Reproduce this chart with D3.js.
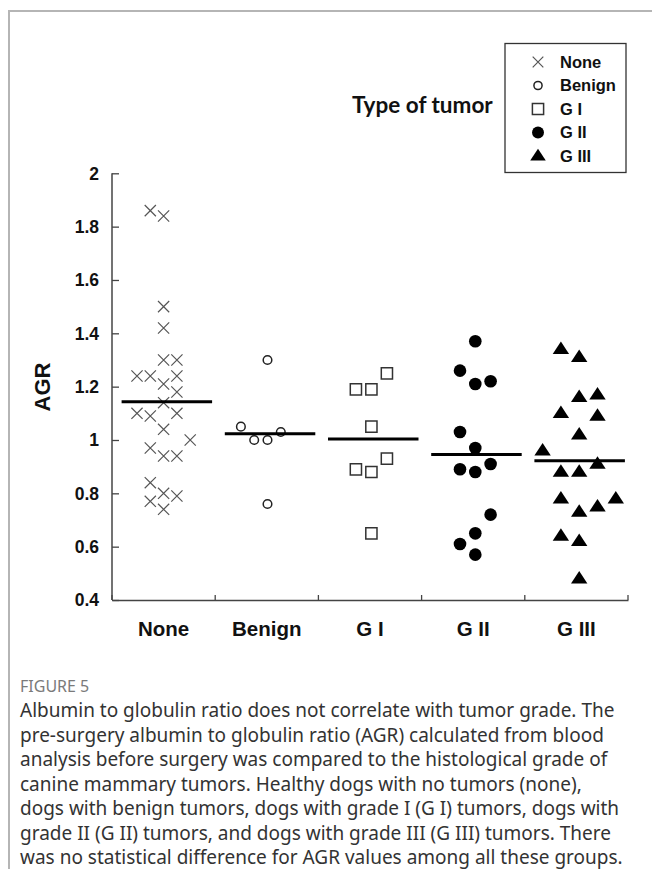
<!DOCTYPE html>
<html>
<head>
<meta charset="utf-8">
<script src="https://cdn.jsdelivr.net/npm/d3@7"></script>
<style>
  body { margin: 0; background: #fff; }
  svg { display: block; }
</style>
</head>
<body>
<svg id="viz" width="652" height="869"></svg>
<script>
// groups on the x axis, also used for the legend
const groups = ["None", "Benign", "G I", "G II", "G III"];

// AGR values per group, with the jitter column each point sits in
const noneAGR  = [1.86, 1.84, 1.50, 1.42, 1.30, 1.30, 1.24, 1.24, 1.24, 1.21, 1.18, 1.14, 1.10, 1.09, 1.10, 1.04, 1.00, 0.97, 0.94, 0.94, 0.84, 0.80, 0.79, 0.77, 0.74];
const noneCol  = [-1, 0, 0, 0, 0, 1, -2, -1, 1, 0, 1, 0, -2, -1, 1, 0, 2, -1, 0, 1, -1, 0, 1, -1, 0];
const benignAGR = [1.30, 1.05, 1.00, 1.00, 1.03, 0.76];
const benignCol = [0, -2, -1, 0, 1, 0];
const g1AGR = [1.25, 1.19, 1.19, 1.05, 0.93, 0.89, 0.88, 0.65];
const g1Col = [1, -1, 0, 0, 1, -1, 0, 0];
const g2AGR = [1.37, 1.26, 1.21, 1.22, 1.03, 0.97, 0.89, 0.88, 0.91, 0.72, 0.65, 0.61, 0.57];
const g2Col = [0, -1, 0, 1, -1, 0, -1, 0, 1, 1, 0, -1, 0];
const g3AGR = [1.34, 1.31, 1.16, 1.17, 1.10, 1.09, 1.02, 0.96, 0.91, 0.88, 0.88, 0.78, 0.78, 0.75, 0.73, 0.64, 0.62, 0.48];
const g3Col = [-1, 0, 0, 1, -1, 1, 0, -2, 1, -1, 0, -1, 2, 1, 0, -1, 0, 0];

const yTicks = [0.4, 0.6, 0.8, 1, 1.2, 1.4, 1.6, 1.8, 2];

const captionLines = [
  "Albumin to globulin ratio does not correlate with tumor grade. The",
  "pre-surgery albumin to globulin ratio (AGR) calculated from blood",
  "analysis before surgery was compared to the histological grade of",
  "canine mammary tumors. Healthy dogs with no tumors (none),",
  "dogs with benign tumors, dogs with grade I (G I) tumors, dogs with",
  "grade II (G II) tumors, and dogs with grade III (G III) tumors. There",
  "was no statistical difference for AGR values among all these groups."
];

const series = [
  { name: groups[0], agr: noneAGR, col: noneCol },
  { name: groups[1], agr: benignAGR, col: benignCol },
  { name: groups[2], agr: g1AGR, col: g1Col },
  { name: groups[3], agr: g2AGR, col: g2Col },
  { name: groups[4], agr: g3AGR, col: g3Col }
];

// marker shape per group: path generator + fill/stroke + jitter step
const MARKERS = {
  "None":   { step: 13.3, path: s => { const h = 5.6 * s; return `M${-h},${-h}L${h},${h}M${-h},${h}L${h},${-h}`; }, fill: "none", stroke: "#555", sw: 1.2 },
  "Benign": { step: 13.3, path: s => d3.arc()({ innerRadius: 0, outerRadius: 4.3 * s, startAngle: 0, endAngle: 2 * Math.PI }), fill: "#fff", stroke: "#222", sw: 1.5 },
  "G I":    { step: 15.5, path: s => { const h = 5.6 * s; return `M${-h},${-h}H${h}V${h}H${-h}Z`; }, fill: "#fff", stroke: "#333", sw: 1.5 },
  "G II":   { step: 15.3, path: s => d3.arc()({ innerRadius: 0, outerRadius: 6.3 * s, startAngle: 0, endAngle: 2 * Math.PI }), fill: "#000", stroke: "none", sw: 0 },
  "G III":  { step: 18.3, path: s => { const w = 8.2 * s, h = 12.5 * s; return `M0,${-h * 0.62}L${w},${h * 0.38}L${-w},${h * 0.38}Z`; }, fill: "#000", stroke: "none", sw: 0 }
};

const svg = d3.select("#viz");
const width = +svg.attr("width");

svg.append("rect").attr("width", width).attr("height", 869).attr("fill", "#fff");

// frame lines of the figure panel
svg.append("path").attr("d", "M652,11H9V869")
  .attr("fill", "none").attr("stroke", "#b5b5b5").attr("stroke-width", 2);

const x = d3.scaleBand().domain(groups).range([112, 628]);
const y = d3.scaleLinear().domain([0.4, 2]).range([600, 173.3]);

const FONT = "'Liberation Sans', Arial, sans-serif";

// axes
const yAxis = svg.append("g").attr("transform", "translate(112,0)")
  .call(d3.axisRight(y).tickValues(yTicks).tickSize(7).tickFormat(d3.format("")));
yAxis.selectAll("text").remove();
yAxis.selectAll("line").attr("stroke", "#444").attr("stroke-width", 1.3);
yAxis.select(".domain").attr("d", "M0,173.3V600").attr("stroke", "#444").attr("stroke-width", 1.5);

svg.append("g").selectAll("text").data(yTicks).join("text")
  .attr("x", 99).attr("y", d => y(d) + 6.3)
  .attr("text-anchor", "end")
  .attr("font-family", FONT).attr("font-weight", "bold").attr("font-size", 17.5)
  .attr("fill", "#111")
  .text(d => d3.format("")(d));

const xAxis = svg.append("g").attr("transform", "translate(0,600)")
  .call(d3.axisTop(x).tickValues([]).tickSizeOuter(0));
xAxis.select(".domain").attr("stroke", "#444").attr("stroke-width", 1.5);
xAxis.selectAll(".tick").remove();
xAxis.selectAll("line.sep").data(d3.range(groups.length + 1)).join("line")
  .attr("class", "sep")
  .attr("x1", i => 112 + i * x.step()).attr("x2", i => 112 + i * x.step())
  .attr("y1", 0).attr("y2", -5)
  .attr("stroke", "#444").attr("stroke-width", 1.3);

svg.append("g").selectAll("text").data(groups).join("text")
  .attr("x", d => x(d) + x.bandwidth() / 2)
  .attr("y", 636)
  .attr("text-anchor", "middle")
  .attr("font-family", FONT).attr("font-weight", "bold").attr("font-size", 20.5)
  .attr("fill", "#111")
  .text(d => d);

svg.append("text")
  .attr("transform", "translate(50,387) rotate(-90)")
  .attr("text-anchor", "middle")
  .attr("font-family", FONT).attr("font-weight", "bold").attr("font-size", 22)
  .attr("fill", "#111")
  .text("AGR");

// points
series.forEach((s, gi) => {
  const m = MARKERS[s.name];
  const cx = x(s.name) + x.bandwidth() / 2 + gi * 0.7;
  svg.append("g").selectAll("path").data(s.agr).join("path")
    .attr("d", m.path(1))
    .attr("transform", (d, i) => `translate(${cx + s.col[i] * m.step},${y(d)})`)
    .attr("fill", m.fill).attr("stroke", m.stroke).attr("stroke-width", m.sw);

  const mean = d3.mean(s.agr);
  const c = x(s.name) + x.bandwidth() / 2;
  svg.append("line")
    .attr("x1", c - 42).attr("x2", c + 48.5)
    .attr("y1", y(mean)).attr("y2", y(mean))
    .attr("stroke", "#000").attr("stroke-width", 3);
});

// legend
svg.append("text")
  .attr("x", 352).attr("y", 113)
  .attr("font-family", "Lato, 'Open Sans', sans-serif").attr("font-weight", "bold").attr("font-size", 22.5)
  .attr("fill", "#111")
  .text("Type of tumor");

const legend = svg.append("g");
legend.append("rect").attr("x", 505).attr("y", 43.5).attr("width", 121).attr("height", 129)
  .attr("fill", "#fff").attr("stroke", "#333").attr("stroke-width", 1.3);
const legendY = d3.scalePoint().domain(groups).range([62, 156]);
groups.forEach(g => {
  const m = MARKERS[g];
  legend.append("path")
    .attr("d", m.path(g === "G I" ? 1.0 : 0.95))
    .attr("transform", `translate(538,${legendY(g)})`)
    .attr("fill", m.fill).attr("stroke", m.stroke).attr("stroke-width", m.sw);
  legend.append("text")
    .attr("x", 560).attr("y", legendY(g) + 5.5)
    .attr("font-family", FONT).attr("font-weight", "bold").attr("font-size", 16.5)
    .attr("fill", "#111")
    .text(g);
});

// caption
svg.append("text")
  .attr("x", 20).attr("y", 692)
  .attr("font-family", "'Noto Sans', 'Open Sans', sans-serif").attr("font-size", 16)
  .attr("fill", "#7a7a7a")
  .text("FIGURE 5");

svg.append("g").selectAll("text").data(captionLines).join("text")
  .attr("x", 20).attr("y", (d, i) => 717 + i * 24.5)
  .attr("font-family", "'Noto Sans', 'Open Sans', sans-serif").attr("font-size", 19)
  .attr("fill", "#333")
  .text(d => d);
</script>
</body>
</html>
